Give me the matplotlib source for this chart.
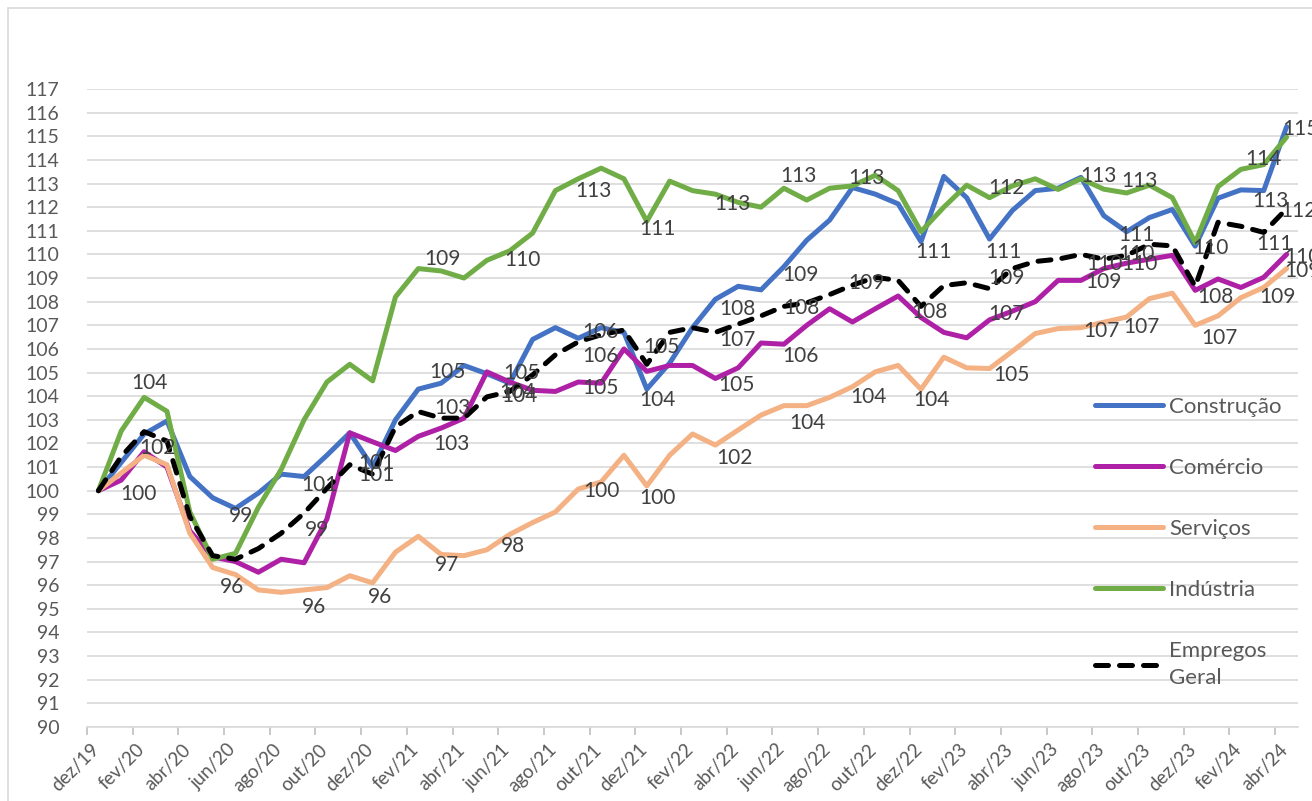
import numpy as np
import matplotlib.pyplot as plt
from matplotlib.patches import Rectangle
from matplotlib.transforms import ScaledTranslation

plt.rcParams['font.family'] = ['Lato', 'DejaVu Sans']

months = ["dez/19", "jan/20", "fev/20", "mar/20", "abr/20", "mai/20", "jun/20", "jul/20",
          "ago/20", "set/20", "out/20", "nov/20", "dez/20", "jan/21", "fev/21", "mar/21",
          "abr/21", "mai/21", "jun/21", "jul/21", "ago/21", "set/21", "out/21", "nov/21",
          "dez/21", "jan/22", "fev/22", "mar/22", "abr/22", "mai/22", "jun/22", "jul/22",
          "ago/22", "set/22", "out/22", "nov/22", "dez/22", "jan/23", "fev/23", "mar/23",
          "abr/23", "mai/23", "jun/23", "jul/23", "ago/23", "set/23", "out/23", "nov/23",
          "dez/23", "jan/24", "fev/24", "mar/24", "abr/24"]

construcao = [100, 101.2, 102.4, 102.95, 100.6, 99.7, 99.25, 99.9, 100.7, 100.6, 101.5, 102.45,
              101.0, 103.0, 104.3, 104.55, 105.3, 104.95, 104.55, 106.4, 106.9, 106.45, 106.9,
              106.7, 104.3, 105.4, 106.9, 108.1, 108.65, 108.5, 109.48, 110.6, 111.45, 112.83,
              112.55, 112.14, 110.54, 113.3, 112.4, 110.65, 111.86, 112.7, 112.8, 113.26, 111.64,
              110.96, 111.56, 111.9, 110.35, 112.38, 112.73, 112.7, 115.4]

comercio = [100, 100.45, 101.65, 101.0, 98.3, 97.2, 97.0, 96.55, 97.1, 96.95, 98.8, 102.45,
            102.07, 101.7, 102.3, 102.65, 103.07, 105.03, 104.6, 104.25, 104.2, 104.6, 104.55,
            106.0, 105.05, 105.3, 105.3, 104.75, 105.2, 106.25, 106.2, 107.0, 107.7, 107.14,
            107.7, 108.24, 107.33, 106.7, 106.47, 107.23, 107.6, 108.0, 108.9, 108.9, 109.4,
            109.63, 109.8, 109.96, 108.48, 108.96, 108.6, 109.03, 110.0]

servicos = [100, 100.75, 101.5, 101.1, 98.2, 96.75, 96.45, 95.8, 95.7, 95.8, 95.9, 96.4, 96.1,
            97.4, 98.07, 97.3, 97.25, 97.5, 98.15, 98.65, 99.1, 100.07, 100.37, 101.5, 100.2,
            101.5, 102.4, 101.93, 102.57, 103.2, 103.6, 103.6, 103.95, 104.4, 105.03, 105.3,
            104.29, 105.65, 105.2, 105.17, 105.9, 106.65, 106.86, 106.9, 107.13, 107.35, 108.13,
            108.36, 107.0, 107.4, 108.17, 108.6, 109.4]

industria = [100, 102.53, 103.95, 103.36, 99.1, 97.1, 97.35, 99.3, 100.9, 103.0, 104.6, 105.35,
             104.65, 108.2, 109.4, 109.3, 109.0, 109.75, 110.15, 110.9, 112.7, 113.2, 113.65,
             113.2, 111.4, 113.1, 112.7, 112.55, 112.2, 112.0, 112.8, 112.3, 112.8, 112.9,
             113.35, 112.7, 110.96, 112.0, 112.93, 112.4, 112.9, 113.2, 112.75, 113.2, 112.76,
             112.6, 112.93, 112.4, 110.5, 112.87, 113.6, 113.8, 114.96]

empregos = [100, 101.45, 102.5, 102.1, 98.9, 97.25, 97.1, 97.55, 98.2, 99.05, 100.1, 101.1,
            100.7, 102.7, 103.35, 103.07, 103.07, 103.97, 104.2, 104.9, 105.75, 106.3, 106.6,
            106.8, 105.35, 106.7, 106.9, 106.7, 107.05, 107.4, 107.8, 107.95, 108.3, 108.7,
            109.03, 108.9, 107.8, 108.68, 108.8, 108.55, 109.4, 109.7, 109.8, 110.0, 109.8,
            109.96, 110.43, 110.36, 108.65, 111.36, 111.19, 110.93, 111.93]

# data labels: (month index, dx px, dy px down)
lab_construcao = [(2, 13, 14), (6, 5, 8), (9, 15, 8), (12, 4, -4), (15, 6, -11), (18, 12, -10),
                  (21, 22, -6), (24, 11, 11), (27, 22, 10), (30, 17, 8), (36, 12, 10),
                  (39, 14, 13), (45, 10, 3), (48, 15, 2), (51, 7, 10), (52, 14, 2)]
lab_comercio = [(1, 17, 14), (10, -10, 11), (15, 10, 16), (19, -13, 6), (21, 22, 6), (27, 21, 7),
                (30, 17, 12), (39, 17, -6), (43, 23, 2), (45, 13, 1), (48, 20, 7), (52, 16, 3)]
lab_servicos = [(6, -4, 12), (9, 10, 17), (12, 7, 14), (15, 6, 10), (18, 3, 12), (22, 0, 9),
                (24, 11, 12), (27, 19, 13), (30, 24, 17), (33, 16, 10), (36, 10, 11), (39, 22, 6),
                (43, 21, 3), (45, 15, 10), (48, 24, 13), (51, 14, 10), (52, 16, 2)]
lab_industria = [(2, 5, -14), (15, 1, -12), (18, 13, 9), (21, 15, 12), (24, 11, 8), (27, 17, 10),
                 (30, 15, -12), (33, 14, -8), (39, 17, -10), (43, 18, -3), (45, 13, -12), (51, 0, -6)]
lab_empregos = [(12, 4, 1), (15, 11, -10), (18, 8, 1), (21, 22, 14), (24, 15, -17), (27, 22, 8),
                (30, 17, 2), (33, 14, -2), (36, 8, 6), (39, 17, -11), (43, 24, 10), (45, 10, -1),
                (51, 11, 12), (52, 12, 2)]

series = [
    ("Construção", construcao, "#4472C4", "-", lab_construcao),
    ("Comércio", comercio, "#AE21A6", "-", lab_comercio),
    ("Serviços", servicos, "#F4B183", "-", lab_servicos),
    ("Indústria", industria, "#70AD47", "-", lab_industria),
    ("Empregos\nGeral", empregos, "black", "--", lab_empregos),
]

fig = plt.figure(figsize=(13.12, 8.01), dpi=100)
ax = fig.add_axes([87 / 1312, 1 - 727 / 801, 1211 / 1312, 638 / 801])

x = np.arange(len(months))
handles = []
for name, vals, color, ls, labs in series:
    if ls == "--":
        ln, = ax.plot(x, vals, color=color, lw=3.6, linestyle=(0, (2.6, 2.2)),
                      dash_capstyle="round", label=name, zorder=3)
    else:
        ln, = ax.plot(x, vals, color=color, lw=3.6, solid_joinstyle="round",
                      solid_capstyle="round", label=name, zorder=3)
    handles.append(ln)
    for i, dx, dy in labs:
        v = vals[i]
        ax.annotate(f"{int(v + 0.5)}", xy=(i, v), xytext=(dx, -dy), textcoords="offset pixels",
                    ha="center", va="center", fontsize=15, color="#404040", zorder=5,
                    annotation_clip=False)

ax.set_xlim(-0.5, len(months) - 0.5)
ax.set_ylim(90, 117)
ax.set_yticks(np.arange(90, 118, 1))
ax.grid(axis="y", color="#D9D9D9", lw=1.2)
ax.set_axisbelow(True)

ax.set_xticks(x[::2])
ax.set_xticklabels(months[::2], rotation=45, ha="right", va="top", rotation_mode="anchor")
ax.set_xticks(np.arange(-0.5, len(months), 2), minor=True)
ax.tick_params(axis="x", which="major", length=0, pad=10, labelsize=13.5, labelcolor="#595959")
ax.tick_params(axis="x", which="minor", length=6, color="#BFBFBF", width=1.2)
ax.tick_params(axis="y", length=0, pad=20, labelsize=14, labelcolor="#595959")
shift = ScaledTranslation(-8 / 100, 0, fig.dpi_scale_trans)
for lbl in ax.get_xticklabels():
    lbl.set_transform(lbl.get_transform() + shift)

for s in ["top", "right", "left"]:
    ax.spines[s].set_visible(False)
ax.spines["bottom"].set_color("#D9D9D9")
ax.spines["bottom"].set_linewidth(1.2)

leg = ax.legend(handles=handles, loc="upper left", bbox_to_anchor=(0.832, 0.518), frameon=False,
                fontsize=16, handlelength=3.1, handletextpad=0.25, labelspacing=1.85,
                borderpad=0, borderaxespad=0, labelcolor="#595959")
leg.get_texts()[-1].set_linespacing(1.45)

fig.patches.append(Rectangle((8 / 1312, -0.1), 1.2, 1.1 - 8 / 801, transform=fig.transFigure,
                             fill=False, edgecolor="#D9D9D9", lw=1.2))

fig.savefig("out.png", dpi=100)
